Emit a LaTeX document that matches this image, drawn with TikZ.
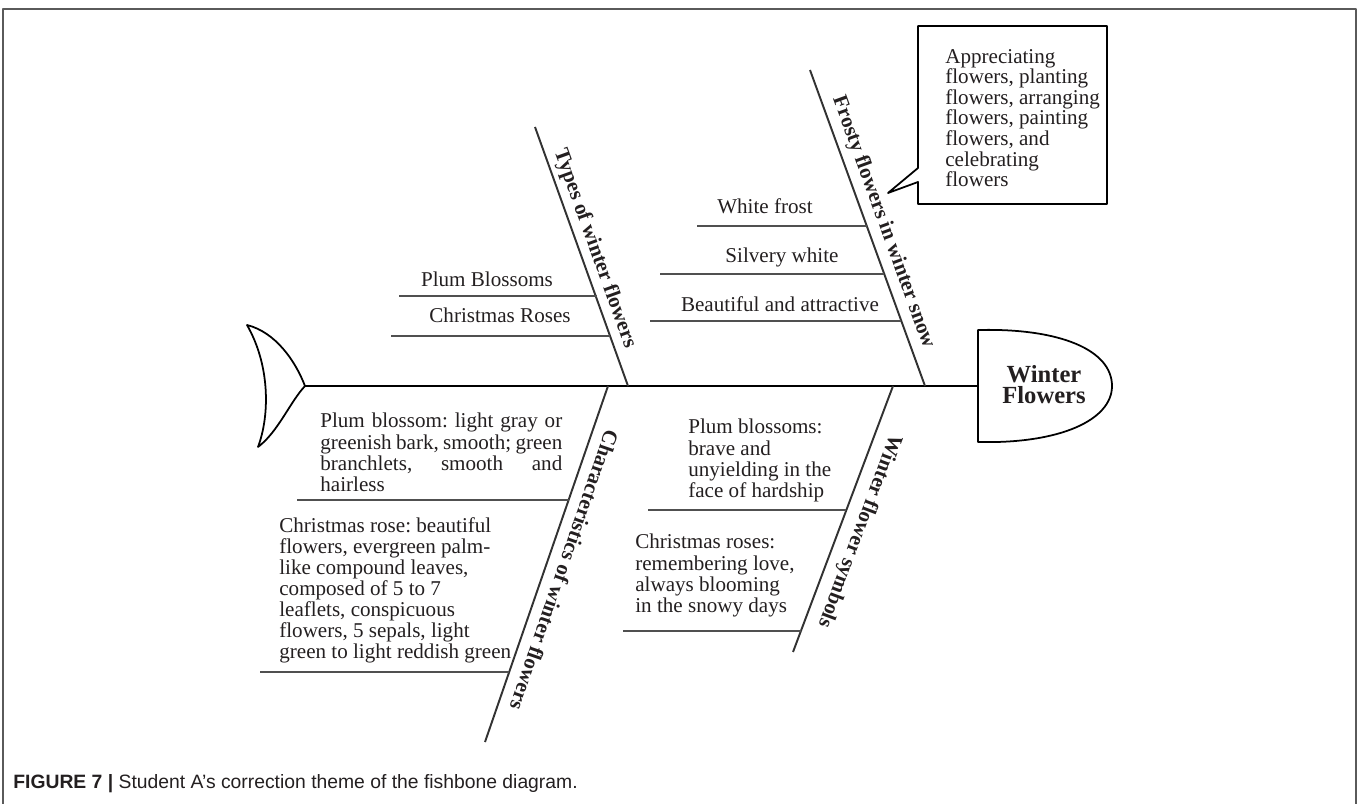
\documentclass[tikz,border=0pt]{standalone}
\usepackage{fontspec}
\setmainfont{Liberation Serif}
\setsansfont{Liberation Sans}
\definecolor{inkgray}{RGB}{35,31,32}
\definecolor{bonegray}{RGB}{50,50,50}
\definecolor{twiggray}{RGB}{80,80,80}
\definecolor{framegray}{RGB}{90,90,90}
\begin{document}
\frenchspacing
\begin{tikzpicture}[x=0.02cm, y=-0.02cm, line join=round,
    bone/.style={draw=bonegray, line width=1.1pt},
    twig/.style={draw=twiggray, line width=1.1pt},
    outline/.style={draw=black, line width=1pt},
    leaf/.style={inner sep=0pt, text=inkgray, font=\fontsize{12}{12}\selectfont, align=left, anchor=north west},
    twiglabel/.style={inner sep=0pt, text=inkgray, font=\fontsize{12}{12}\selectfont, anchor=base},
    bonelabel/.style={inner sep=0pt, text=inkgray, font=\fontsize{12}{12}\selectfont\bfseries, sloped, allow upside down}]
            \useasboundingbox (0,0) rectangle (1360,804);
            % Frame (open at the bottom)
            \draw[framegray, line width=1.1pt] (3,804) -- (3,9) -- (1356,9) -- (1356,804);

            % Spine
            \coordinate (tail) at (305,386);
            \coordinate (head) at (978,386);
            \draw[black, line width=1.7pt] (tail) -- (head);

            % Tail fin
            \draw[outline] (247,325) .. controls (270,365) and (270,415) .. (258,447)
                .. controls (278,432) and (290,402) .. (tail)
                .. controls (295,360) and (275,332) .. cycle;

            % Head
            \draw[outline, fill=white] (978,442) -- (978,330) .. controls (1060,328) and (1112,350) .. (1112,386)
                .. controls (1112,420) and (1060,444) .. cycle;
            \node[font=\fontsize{14}{12}\selectfont\bfseries, text=inkgray, align=center, inner sep=0pt] (title) at (1044,385) {Winter\\Flowers};

            % Bone ends
            \coordinate (typesTop) at (535,127);
            \coordinate (typesFoot) at (628,386);
            \coordinate (frostTop) at (810,70);
            \coordinate (frostFoot) at (925,386);
            \coordinate (charFoot) at (608,386);
            \coordinate (charEnd) at (485,742);
            \coordinate (symbFoot) at (893,386);
            \coordinate (symbEnd) at (793,652);

            % Bones with their labels
            \draw[bone] (typesTop) -- (typesFoot) node[bonelabel, pos=0.49, above=2.5pt] {Types of winter flowers};
            \draw[bone] (frostTop) -- (frostFoot) node[bonelabel, pos=0.5, above=3.5pt] {Frosty flowers in winter snow};
            \draw[bone] (charFoot) -- (charEnd) node[bonelabel, pos=0.5, above=6pt] {Characteristics of winter flowers};
            \draw[bone] (symbFoot) -- (symbEnd) node[bonelabel, pos=0.52, above=5pt] {Winter flower symbols};

            % Twigs of the upper bones
            \coordinate (plumL) at (399,296);   \coordinate (plumR) at (597,296);
            \coordinate (roseL) at (391,336);   \coordinate (roseR) at (610,336);
            \coordinate (frostL) at (697,226);  \coordinate (frostR) at (867,226);
            \coordinate (silverL) at (660,274); \coordinate (silverR) at (884,274);
            \coordinate (beautyL) at (650,321); \coordinate (beautyR) at (901,321);
            \draw[twig] (plumL) -- (plumR);
            \draw[twig] (roseL) -- (roseR);
            \draw[twig] (frostL) -- (frostR);
            \draw[twig] (silverL) -- (silverR);
            \draw[twig] (beautyL) -- (beautyR);
            \node[twiglabel] (plumText) at (487,287) {Plum Blossoms};
            \node[twiglabel] (roseText) at (500,323) {Christmas Roses};
            \node[twiglabel] (frostText) at (765,214) {White frost};
            \node[twiglabel] (silverText) at (782,263) {Silvery white};
            \node[twiglabel] (beautyText) at (780,312) {Beautiful and attractive};

            % Twigs of the lower bones
            \coordinate (barkL) at (297,500);   \coordinate (barkR) at (569,500);
            \coordinate (leafL) at (260,672);   \coordinate (leafR) at (509,672);
            \coordinate (braveL) at (648,510);  \coordinate (braveR) at (846,510);
            \coordinate (loveL) at (623,631);   \coordinate (loveR) at (801,631);
            \draw[twig] (barkL) -- (barkR);
            \draw[twig] (leafL) -- (leafR);
            \draw[twig] (braveL) -- (braveR);
            \draw[twig] (loveL) -- (loveR);
            \node[leaf] (barkText) at (320,413)
                {\makebox[4.84cm][s]{Plum blossom: light gray or}\\
                 \makebox[4.84cm][s]{greenish bark, smooth; green}\\
                 \makebox[4.84cm][s]{branchlets,\hfill smooth\hfill and}\\
                 hairless};
            \node[leaf] (leafText) at (279,517)
                {Christmas rose: beautiful\\flowers, evergreen palm-\\like compound leaves,\\composed of 5 to 7\\leaflets, conspicuous\\flowers, 5 sepals, light\\green to light reddish green};
            \node[leaf] (braveText) at (688,419)
                {Plum blossoms:\\brave and\\unyielding in the\\face of hardship};
            \node[leaf] (loveText) at (635,534)
                {Christmas roses:\\remembering love,\\always blooming\\in the snowy days};

            % Callout
            \draw[outline, fill=white] (918,26) -- (1107,26) -- (1107,204) -- (918,204) -- (918,182)
                -- (888,193) -- (918,168) -- cycle;
            \node[leaf, font=\fontsize{12}{11.7}\selectfont] (callText) at (945,49)
                {Appreciating\\flowers, planting\\flowers, arranging\\flowers, painting\\flowers, and\\celebrating\\flowers};

            % Caption
            \node[anchor=base west, inner sep=0pt, font=\fontsize{11}{12}\sffamily, text=inkgray] (caption) at (13,788)
                {\textbf{FIGURE 7 |} Student A’s correction theme of the fishbone diagram.};
        \end{tikzpicture}
\end{document}
